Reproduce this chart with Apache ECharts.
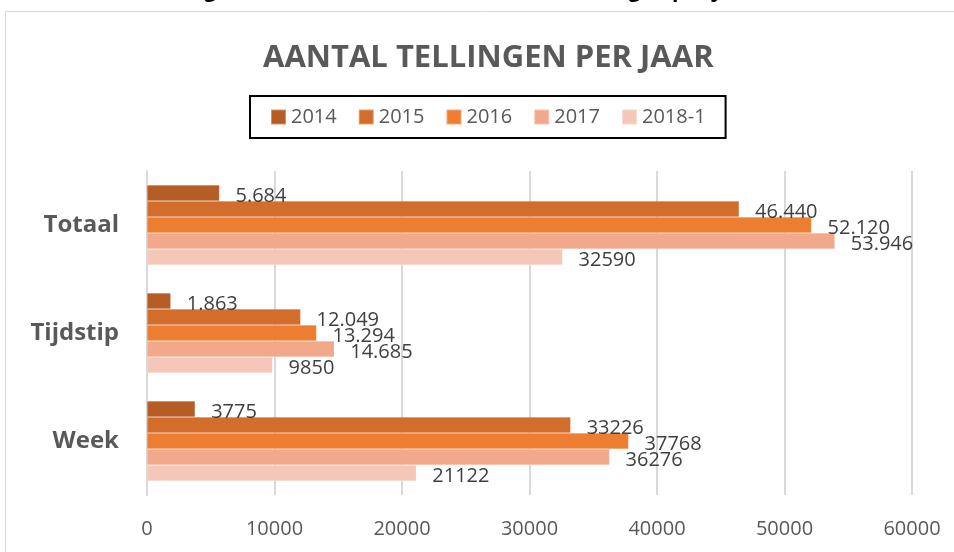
<!DOCTYPE html>
<html>
<head>
<meta charset="utf-8">
<script src="https://cdn.jsdelivr.net/npm/echarts@6/dist/echarts.min.js"></script>
<style>
  html, body { margin: 0; padding: 0; background: #fff; }
  #chart { width: 954px; height: 552px; }
</style>
</head>
<body>
<div id="chart"></div>
<script>
var categories = ['Totaal', 'Tijdstip', 'Week'];
var years = ['2014', '2015', '2016', '2017', '2018-1'];
var colors = ['#B55D24', '#D26D2C', '#ED7D31', '#F1A88B', '#F5C7B8'];

// values per year: Totaal, Tijdstip, Week
var v2014 = [5684, 1863, 3775];
var v2015 = [46440, 12049, 33226];
var v2016 = [52120, 13294, 37768];
var v2017 = [53946, 14685, 36276];
var v2018 = [32590, 9850, 21122];

// labels as shown in the picture
var l2014 = ['5.684', '1.863', '3775'];
var l2015 = ['46.440', '12.049', '33226'];
var l2016 = ['52.120', '13.294', '37768'];
var l2017 = ['53.946', '14.685', '36276'];
var l2018 = ['32590', '9850', '21122'];

var xTicks = [0, 10000, 20000, 30000, 40000, 50000, 60000];

var values = [v2014, v2015, v2016, v2017, v2018];
var labels = [l2014, l2015, l2016, l2017, l2018];

var font = '"Open Sans", sans-serif';
var chart = echarts.init(document.getElementById('chart'));

var series = years.map(function (y, i) {
  return {
    name: y,
    type: 'bar',
    data: values[i],
    barWidth: 16,
    barGap: '0%',
    itemStyle: { color: colors[i], borderColor: 'rgba(255,255,255,0.35)', borderWidth: 0.5 },
    label: {
      show: true,
      position: 'right',
      distance: 16,
      offset: [0, 3],
      color: '#404040',
      fontFamily: font,
      fontSize: 20,
      formatter: function (p) { return labels[i][p.dataIndex]; }
    }
  };
});

chart.setOption({
  animation: false,
  textStyle: { fontFamily: font },
  title: {
    text: 'AANTAL TELLINGEN PER JAAR',
    left: 258,
    top: 38,
    textStyle: { fontFamily: font, fontSize: 31, fontWeight: 'bold', color: '#595959' }
  },
  graphic: [
    {
      type: 'rect',
      shape: { x: 5.5, y: 11.5, width: 1000, height: 600 },
      style: { fill: 'none', stroke: '#D9D9D9', lineWidth: 1 },
      silent: true
    },
    {
      type: 'text',
      left: 75,
      top: -19,
      style: {
        text: 'Aantal tellingen verdeeld over de verschillende tellingen per jaar',
        font: 'bold 21px "Open Sans", sans-serif',
        fill: '#000'
      }
    }
  ],
  legend: {
    data: years,
    top: 96,
    left: 250,
    itemWidth: 15,
    itemHeight: 15,
    itemGap: 21,
    padding: [11, 20, 11, 20],
    borderColor: '#000',
    borderWidth: 2,
    icon: 'rect',
    textStyle: { fontFamily: font, fontSize: 20, color: '#595959' }
  },
  grid: { left: 147, right: 42, top: 171, bottom: 57, containLabel: false },
  xAxis: {
    type: 'value',
    min: 0,
    max: 60000,
    interval: 10000,
    axisLine: { show: false },
    axisTick: { show: false },
    splitLine: { lineStyle: { color: '#D9D9D9', width: 2 } },
    axisLabel: {
      margin: 24,
      color: '#595959',
      fontFamily: font,
      fontSize: 20,
      formatter: function (v) { return xTicks.indexOf(v) >= 0 ? String(v) : ''; }
    }
  },
  yAxis: {
    type: 'category',
    data: categories,
    inverse: true,
    axisLine: { show: true, lineStyle: { color: '#D9D9D9', width: 2 } },
    axisTick: { show: false },
    axisLabel: {
      margin: 28,
      color: '#595959',
      fontFamily: font,
      fontSize: 24,
      fontWeight: 'bold'
    }
  },
  series: series
});
</script>
</body>
</html>
